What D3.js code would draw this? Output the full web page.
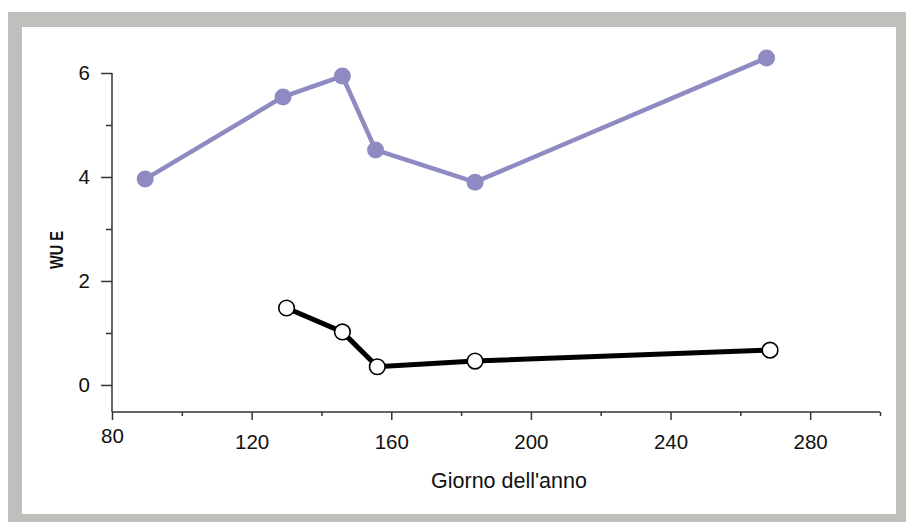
<!DOCTYPE html>
<html>
<head>
<meta charset="utf-8">
<script src="https://cdn.jsdelivr.net/npm/d3@7"></script>
<style>
  body { margin: 0; background: #fff; }
  svg { display: block; font-family: "Liberation Sans", Arial, sans-serif; }
</style>
</head>
<body>
<div id="chart"></div>
<script>
// Data
var dayPurple = [89.5, 129, 146, 155.5, 184, 267.5];
var wuePurple = [3.96, 5.54, 5.94, 4.52, 3.90, 6.29];
var dayBlack = [130, 146, 156, 184, 268.5];
var wueBlack = [1.48, 1.02, 0.35, 0.46, 0.67];

var xMajor = [80, 120, 160, 200, 240, 280];
var xMinor = [100, 140, 180, 220, 260, 300];
var yMajor = [0, 2, 4, 6];
var yMinor = [1, 3, 5];

var W = 906, H = 522;

var svg = d3.select("#chart")
  .append("svg")
  .attr("width", W)
  .attr("height", H);

// Gray frame
svg.append("rect")
  .attr("x", 8).attr("y", 12)
  .attr("width", W - 8).attr("height", H - 12)
  .attr("fill", "#c0bfbc");
svg.append("rect")
  .attr("x", 22).attr("y", 27)
  .attr("width", 896 - 22).attr("height", 514 - 27)
  .attr("fill", "#fff");

// Scales
var x = d3.scaleLinear().domain([80, 300]).range([112, 880]);
var y = d3.scaleLinear().domain([-0.52, 6]).range([412, 73]);

var axisColor = "#333";

// X axis
var gx = svg.append("g")
  .attr("transform", "translate(0," + y(-0.52) + ")")
  .call(d3.axisBottom(x).tickValues(xMajor).tickSize(8).tickPadding(14)
    .tickFormat(d3.format("d")));
gx.select(".domain").attr("d", "M" + x(80) + ",0H" + x(300));
svg.append("g")
  .attr("transform", "translate(0," + y(-0.52) + ")")
  .call(d3.axisBottom(x).tickValues(xMinor).tickSize(4).tickFormat(""))
  .select(".domain").remove();

// Y axis
var gy = svg.append("g")
  .attr("transform", "translate(" + x(80) + ",0)")
  .call(d3.axisLeft(y).tickValues(yMajor).tickSize(11).tickPadding(11)
    .tickFormat(d3.format("d")));
gy.select(".domain").attr("d", "M0," + y(6) + "V" + y(-0.52));
svg.append("g")
  .attr("transform", "translate(" + x(80) + ",0)")
  .call(d3.axisLeft(y).tickValues(yMinor).tickSize(6).tickFormat(""))
  .select(".domain").remove();

svg.selectAll(".domain, .tick line")
  .attr("stroke", axisColor)
  .attr("stroke-width", 1.5);

svg.selectAll(".tick text")
  .attr("fill", "#111")
  .style("font-size", "20.5px");
gx.selectAll(".tick text")
  .filter(function(d) { return d === 80; })
  .attr("transform", "translate(0,-6)");

// Axis titles
svg.append("text")
  .attr("x", 509)
  .attr("y", 488)
  .attr("text-anchor", "middle")
  .attr("fill", "#111")
  .style("font-size", "21.5px")
  .text("Giorno dell'anno");

svg.append("text")
  .attr("transform", "translate(63,250) rotate(-90)")
  .attr("text-anchor", "middle")
  .attr("fill", "#111")
  .attr("textLength", 38)
  .attr("lengthAdjust", "spacingAndGlyphs")
  .style("font-size", "19px")
  .style("font-weight", "bold")
  .text("WU E");

// Lines
var purple = "#8e8bc3";
var line = d3.line()
  .x(function(d) { return x(d[0]); })
  .y(function(d) { return y(d[1]); });

var ptsPurple = d3.zip(dayPurple, wuePurple);
var ptsBlack = d3.zip(dayBlack, wueBlack);

svg.append("path")
  .datum(ptsPurple)
  .attr("d", line)
  .attr("fill", "none")
  .attr("stroke", purple)
  .attr("stroke-width", 4.5);

svg.append("path")
  .datum(ptsBlack)
  .attr("d", line)
  .attr("fill", "none")
  .attr("stroke", "#000")
  .attr("stroke-width", 5);

// Markers
svg.selectAll(".dotP")
  .data(ptsPurple)
  .enter()
  .append("circle")
  .attr("class", "dotP")
  .attr("cx", function(d) { return x(d[0]); })
  .attr("cy", function(d) { return y(d[1]); })
  .attr("r", 8.5)
  .attr("fill", purple);

svg.selectAll(".dotB")
  .data(ptsBlack)
  .enter()
  .append("circle")
  .attr("class", "dotB")
  .attr("cx", function(d) { return x(d[0]); })
  .attr("cy", function(d) { return y(d[1]); })
  .attr("r", 7.8)
  .attr("fill", "#fff")
  .attr("stroke", "#000")
  .attr("stroke-width", 1.6);
</script>
</body>
</html>
